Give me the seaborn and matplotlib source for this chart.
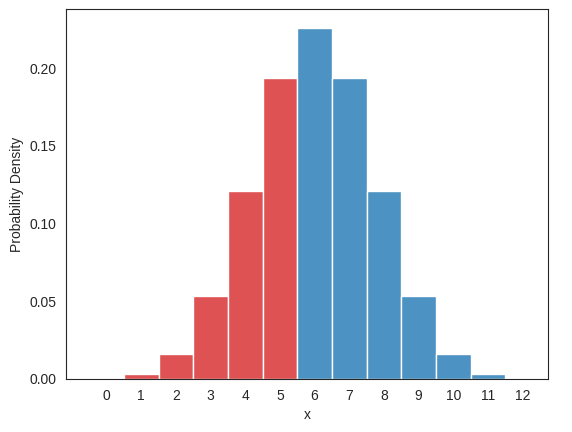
import numpy as np
import pandas as pd
import matplotlib
matplotlib.use('Agg')
import matplotlib.pyplot as plt
import seaborn as sns

# binomial pmf, n=12, p=0.5
x_vals = list(range(13))
density = [0.000244, 0.00293, 0.0161, 0.0537, 0.1208, 0.1934, 0.2256,
           0.1934, 0.1208, 0.0537, 0.0161, 0.00293, 0.000244]
side = ["low"] * 6 + ["high"] * 7

df = pd.DataFrame({"x": x_vals, "density": density, "side": side})

sns.set_style("white")
plt.rcParams['font.family'] = ['Liberation Sans', 'DejaVu Sans']
fig, ax = plt.subplots(figsize=(5.72, 4.32), dpi=100)
fig.subplots_adjust(left=0.1154, right=0.958, top=0.979, bottom=0.1227)

low = df[df["side"] == "low"]
high = df[df["side"] == "high"]
sns.histplot(data=low, x="x", weights="density", discrete=True,
             color="tab:red", alpha=0.8, edgecolor="white", linewidth=1, ax=ax)
sns.histplot(data=high, x="x", weights="density", discrete=True,
             color="tab:blue", alpha=0.8, edgecolor="white", linewidth=1, ax=ax)

ax.set_xticks(x_vals)
ax.set_xlim(-1.17, 12.73)
ax.set_ylim(0, 0.238)
ax.set_yticks([0, 0.05, 0.10, 0.15, 0.20])
ax.set_yticklabels(["0.00", "0.05", "0.10", "0.15", "0.20"])
ax.set_xlabel("x")
ax.set_ylabel("Probability Density")

plt.savefig("out.png")
plt.close()
